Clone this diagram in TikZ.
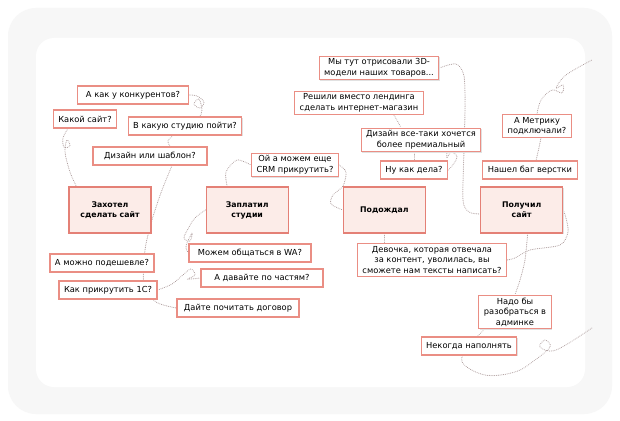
\documentclass[tikz,border=0pt]{standalone}
\usepackage{fontspec}
\setmainfont{DejaVu Sans}
\usetikzlibrary{positioning}
\pgfdeclarelayer{card}
\pgfdeclarelayer{threads}
\pgfsetlayers{card,threads,main}
\definecolor{salmon}{RGB}{228,128,118}
\definecolor{rosy}{RGB}{234,142,132}
\definecolor{blush}{RGB}{252,236,232}
\definecolor{dotgray}{RGB}{175,158,158}
\definecolor{framegray}{RGB}{247,247,247}
\definecolor{shade}{RGB}{225,225,225}

\begin{document}
\begin{tikzpicture}[
x=1pt, y=-1pt,
font=\fontsize{8.3}{10.6}\selectfont,
node distance=0.9cm and 54pt,
stage/.style={draw=salmon, line width=1.2pt, fill=blush, minimum width=82pt, minimum height=46pt, align=center, font=\fontsize{7.8}{10}\selectfont\bfseries, preaction={fill=shade, transform canvas={shift={(1pt,-1pt)}}}},
ask/.style={draw=rosy, line width=1.1pt, fill=white, minimum height=18pt, inner xsep=5pt, inner ysep=2.5pt, align=center, preaction={fill=shade, transform canvas={shift={(0.8pt,-0.8pt)}}}},
thread/.style={dotgray, line width=1pt, dash pattern=on 0.1pt off 1.7pt, line cap=round}
]
\useasboundingbox (0,0) rectangle (620,420);

% -------- Card --------
\begin{pgfonlayer}{card}
\fill[white] (0,0) rectangle (620,420);
\fill[framegray, rounded corners=28pt] (8,8) rectangle (612,414);
\fill[white, rounded corners=18pt] (36,38) rectangle (585,387);
\end{pgfonlayer}

% -------- Stages --------
\node[stage] at (110,210) (zah) {Захотел\\сделать сайт};
\node[stage, right=of zah] (zap) {Заплатил\\студии};
\node[stage, right=of zap] (pod) {Подождал};
\node[stage, right=of pod] (pol) {Получил\\сайт};

% -------- Before the studio --------
\node[ask, minimum width=111pt] at (133,95) (konk) {А как у конкурентов?};
\node[ask] at (85,119) (kakoy) {Какой сайт?};
\node[ask] at (185,126) (studio) {В какую студию пойти?};
\node[ask, minimum width=114pt] at (150,156) (shablon) {Дизайн или шаблон?};
\node[ask] at (102,263) (podesh) {А можно подешевле?};
\node[ask] at (108,290) (onec) {Как прикрутить 1С?};

% -------- Paying --------
\node[ask, minimum width=122pt] at (250,253) (wa) {Можем общаться в WA?};
\node[ask, minimum width=122pt] at (262,278) (chast) {А давайте по частям?};
\node[ask, minimum width=122pt] at (238,308) (dogovor) {Дайте почитать договор};
\node[ask] at (295,165) (crm) {Ой а можем еще\\CRM прикрутить?};

% -------- Waiting --------
\node[ask] at (379,68) (models) {Мы тут отрисовали 3D-\\модели наших товаров...};
\node[ask] at (359,103) (shop) {Решили вместо лендинга\\сделать интернет-магазин};
\node[ask] at (421,140) (premium) {Дизайн все-таки хочется\\более премиальный};
\node[ask] at (414,170) (dela) {Ну как дела?};
\node[ask] at (432,260) (girl) {Девочка, которая отвечала\\за контент, уволилась, вы\\сможете нам тексты написать?};

% -------- Site received --------
\node[ask] at (537,126) (metrika) {А Метрику\\подключали?};
\node[ask] at (530,170) (bug) {Нашел баг верстки};
\node[ask] at (515,312) (admin) {Надо бы\\разобраться в\\админке};
\node[ask] at (469,346) (nekogda) {Некогда наполнять};

\coordinate (topexit) at (592,60);
\coordinate (lowexit) at (592,328);

% -------- Threads --------
\begin{pgfonlayer}{threads}
\draw[thread] plot[smooth, tension=0.6] coordinates {([xshift=-17pt]kakoy.south) (63,138) (64,147) (70,146) (67,140) (65,152) (70,172) ([xshift=8pt]zah.north west)};
\draw[thread] plot[smooth, tension=0.6] coordinates {(konk.east) (197,96) (204,102) (200,108) (194,104) (199,99) (202,110) ([xshift=15pt]studio.north)};
\draw[thread] plot[smooth] coordinates {([xshift=-12pt]studio.south) (168,141) ([xshift=20pt]shablon.north)};
\draw[thread] plot[smooth] coordinates {([xshift=22pt]shablon.south) (162,190) (152,220) (145,250) (144,285) (156,302) (dogovor.west)};
\draw[thread] plot[smooth, tension=0.6] coordinates {(onec.east) (172,284) (184,274) (191,269) (195,275) (188,279) (chast.west)};
\draw[thread] plot[smooth, tension=0.6] coordinates {(zap.west) (195,218) (188,229) (184,238) (190,241) (192,233) (186,246) (wa.west)};
\draw[thread] plot[smooth] coordinates {([xshift=-20pt]zap.north) (226,172) (237,160) (crm.west)};
\draw[thread] plot[smooth] coordinates {(crm.east) (346,172) (343,186) (333,195) (331,204) (pod.west)};
\draw[thread] (pod.south) -- (girl.north -| pod.south);
\draw[thread] plot[smooth] coordinates {(models.east) (456,64) (464,76) (465,110) (464,150) (463,200) (469,212) ([yshift=-4pt]pol.west)};
\draw[thread] plot[smooth] coordinates {([xshift=35pt]shop.south) (398,122) ([xshift=-20pt]premium.north)};
\draw[thread] (premium.south -| dela.north) -- (dela.north);
\draw[thread] plot[smooth, tension=0.6] coordinates {(dela.east) (452,166) (457,157) (451,152) (447,158) ([xshift=26pt]premium.south)};
\draw[thread] plot[smooth, tension=0.6] coordinates {(metrika.north) (541,100) (552,90) (562,93) (563,85) (556,88) (566,75) (topexit)};
\draw[thread] plot[smooth] coordinates {([xshift=4pt]metrika.south) (538,152) ([xshift=6pt]bug.north)};
\draw[thread] plot[smooth] coordinates {(pol.east) (566,218) (568,232) (560,245) (530,250) (515,258) (girl.east)};
\draw[thread] plot[smooth] coordinates {([xshift=6pt]pol.south) (525,260) (520,280) (admin.north)};
\draw[thread] plot[smooth, tension=0.6] coordinates {([xshift=6pt]admin.south west) (470,345) (462,362) (485,375) (515,372) (535,360) (550,347) (545,340) (540,347) (556,350) (lowexit)};
\end{pgfonlayer}

\end{tikzpicture}
\end{document}
